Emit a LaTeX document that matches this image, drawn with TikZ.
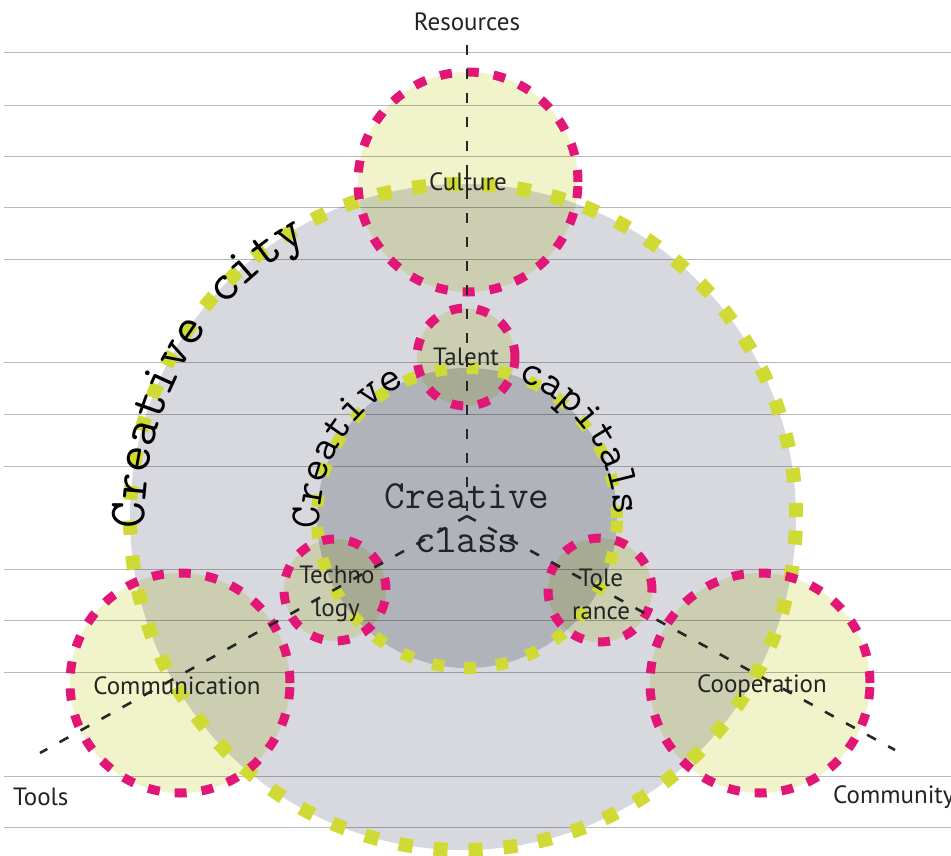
\documentclass[tikz,border=0pt]{standalone}
\usepackage{fontspec}
\setsansfont{PT Sans}
\usetikzlibrary{decorations.text}
\definecolor{pinkc}{RGB}{226,22,118}
\definecolor{ygreen}{RGB}{207,219,52}
\definecolor{bigfill}{RGB}{216,216,223}
\definecolor{innerfill}{RGB}{210,212,214}
\definecolor{lightyel}{RGB}{241,244,203}
\definecolor{rulec}{RGB}{185,185,185}
\definecolor{ink}{RGB}{35,35,35}
\newcommand\labfont{\sffamily\fontsize{25}{33}\selectfont}
\newcommand\cityfont{\ttfamily\fontsize{52}{52}\selectfont}
\newcommand\capfont{\ttfamily\fontsize{43}{43}\selectfont}
\newcommand\classfont{\ttfamily\fontsize{40}{44}\selectfont}
\begin{document}
\begin{tikzpicture}[x=1pt,y=1pt,
  ruleline/.style={draw=rulec, line width=1},
  disc/.style={circle, inner sep=0, outer sep=0},
  ydash/.style={draw=ygreen, line width=14, dash pattern=on 14 off 21},
  ydashsmall/.style={draw=ygreen, line width=12, dash pattern=on 12 off 20},
  pdash/.style={draw=pinkc, line width=9, dash pattern=on 12 off 15},
  axisline/.style={draw=black!85, line width=2.6, dash pattern=on 10 off 14},
  lab/.style={font=\labfont, text=ink, inner sep=0, align=center}
]
\useasboundingbox (0,0) rectangle (951,-855);
\foreach \yy in {52,105,156,207,259,362,414,466,569,620,672,776,827}
  \draw[ruleline] (4,-\yy) -- (951,-\yy);

\begin{scope}[blend mode=multiply]
  \node[disc, fill=bigfill, minimum size=666] (bigc) at (463,-517) {};
  \node[disc, fill=innerfill, minimum size=300] (innerc) at (467,-518) {};
  \node[disc, fill=lightyel, minimum size=220] (culture) at (468,-182) {};
  \node[disc, fill=lightyel, minimum size=98] (talent) at (466,-357) {};
  \node[disc, fill=lightyel, minimum size=102] (techno) at (335,-590) {};
  \node[disc, fill=lightyel, minimum size=104] (tole) at (600,-590) {};
  \node[disc, fill=lightyel, minimum size=220] (comm) at (180,-683) {};
  \node[disc, fill=lightyel, minimum size=220] (coop) at (760,-683) {};
\end{scope}

\draw[ydash] (bigc.center) circle[radius=333];
\draw[ydashsmall] (innerc.center) circle[radius=150];
\draw[pdash] (culture.center) circle[radius=110];
\draw[pdash] (talent.center) circle[radius=49];
\draw[pdash] (techno.center) circle[radius=51];
\draw[pdash] (tole.center) circle[radius=52];
\draw[pdash] (comm.center) circle[radius=110];
\draw[pdash] (coop.center) circle[radius=110];

\coordinate (hub) at (467,-516);
\coordinate (res) at (467,-45);
\coordinate (toolsend) at (40,-753);
\coordinate (commend) at (895,-750);
\draw[axisline] (res) -- (hub);
\draw[axisline] (hub) -- (toolsend);
\draw[axisline] (hub) -- (commend);

\path[decorate, decoration={text along path, text={|\cityfont|Creative city}, text align=left}]
  (bigc.center) ++(182:318) arc[start angle=182, end angle=100, radius=318];
\path[decorate, decoration={text along path, text={|\capfont|Creative}, text align=left}]
  (innerc.center) ++(184:147) arc[start angle=184, end angle=100, radius=147];
\path[decorate, decoration={text along path, text={|\capfont|capitals}, text align=left}]
  (innerc.center) ++(70:147) arc[start angle=70, end angle=-20, radius=147];

\node[font=\classfont, text=ink, align=center, inner sep=0] (classlab) at (467,-518) {Creative\\class};

\node[lab] (reslab) at (467,-22) {Resources};
\node[lab] (culturelab) at (culture) {Culture};
\node[lab] (talentlab) at (talent) {Talent};
\node[lab] (technolab) at (337,-594) {Techno\\logy};
\node[lab] (tolelab) at (601,-594) {Tole\\rance};
\node[lab] (commlab) at (177,-686) {Communication};
\node[lab] (cooplab) at (762,-686) {Cooperation};
\node[lab, anchor=west] (toolslab) at (13,-797) {Tools};
\node[lab, anchor=west] (communitylab) at (833,-797) {Community};
\end{tikzpicture}
\end{document}
